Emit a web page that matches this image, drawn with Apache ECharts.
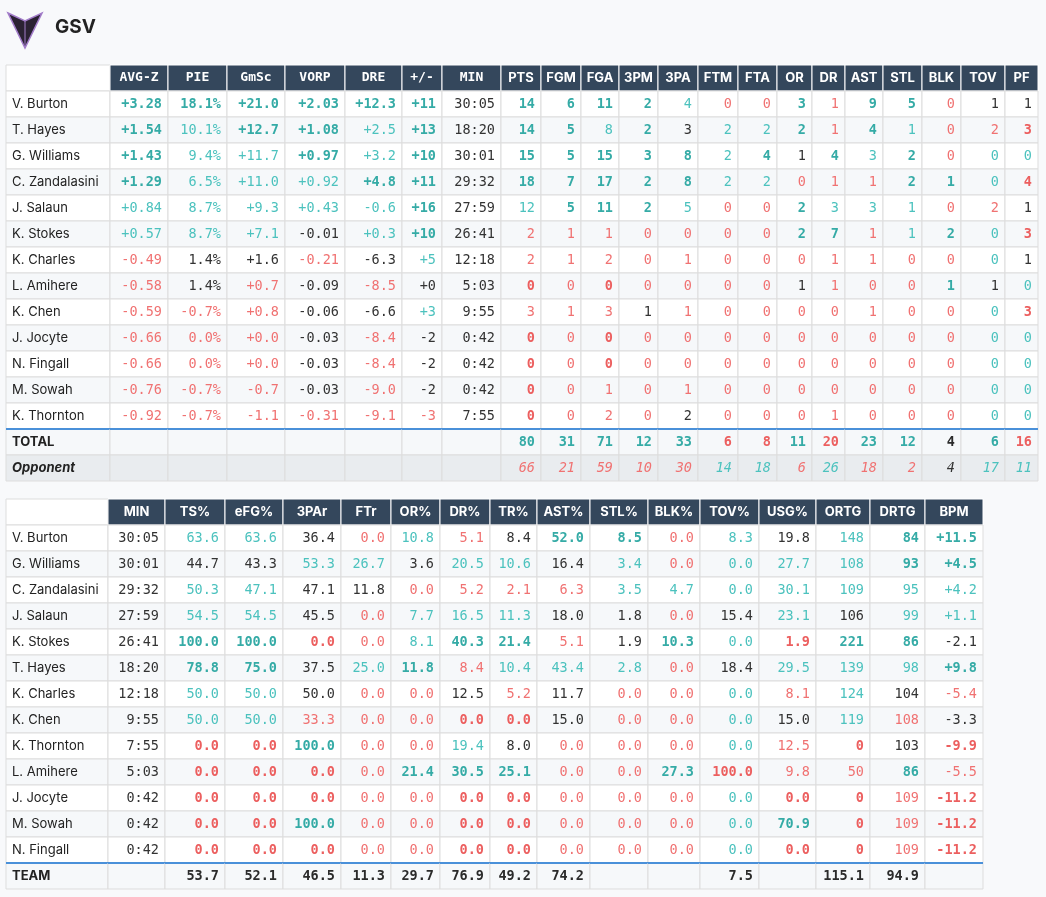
<!DOCTYPE html>
<html>
<head>
<meta charset="utf-8">
<script src="https://cdn.jsdelivr.net/npm/echarts@6/dist/echarts.min.js"></script>
<style>
  html, body { margin: 0; padding: 0; background: #f8f9fb; }
  #main { width: 1046px; height: 897px; }
</style>
</head>
<body>
<div id="main"></div>
<script>
// ---- data: box score ----
var boxCols = ['', 'AVG-Z', 'PIE', 'GmSc', 'VORP', 'DRE', '+/-', 'MIN', 'PTS', 'FGM', 'FGA', '3PM', '3PA', 'FTM', 'FTA', 'OR', 'DR', 'AST', 'STL', 'BLK', 'TOV', 'PF'];
var boxNames = ['V. Burton', 'T. Hayes', 'G. Williams', 'C. Zandalasini', 'J. Salaun', 'K. Stokes', 'K. Charles', 'L. Amihere', 'K. Chen', 'J. Jocyte', 'N. Fingall', 'M. Sowah', 'K. Thornton', 'TOTAL', 'Opponent'];
var boxVals = [
  '+3.28 18.1% +21.0 +2.03 +12.3 +11 30:05 14 6 11 2 4 0 0 3 1 9 5 0 1 1',
  '+1.54 10.1% +12.7 +1.08 +2.5 +13 18:20 14 5 8 2 3 2 2 2 1 4 1 0 2 3',
  '+1.43 9.4% +11.7 +0.97 +3.2 +10 30:01 15 5 15 3 8 2 4 1 4 3 2 0 0 0',
  '+1.29 6.5% +11.0 +0.92 +4.8 +11 29:32 18 7 17 2 8 2 2 0 1 1 2 1 0 4',
  '+0.84 8.7% +9.3 +0.43 -0.6 +16 27:59 12 5 11 2 5 0 0 2 3 3 1 0 2 1',
  '+0.57 8.7% +7.1 -0.01 +0.3 +10 26:41 2 1 1 0 0 0 0 2 7 1 1 2 0 3',
  '-0.49 1.4% +1.6 -0.21 -6.3 +5 12:18 2 1 2 0 1 0 0 0 1 1 0 0 0 1',
  '-0.58 1.4% +0.7 -0.09 -8.5 +0 5:03 0 0 0 0 0 0 0 1 1 0 0 1 1 0',
  '-0.59 -0.7% +0.8 -0.06 -6.6 +3 9:55 3 1 3 1 1 0 0 0 0 1 0 0 0 3',
  '-0.66 0.0% +0.0 -0.03 -8.4 -2 0:42 0 0 0 0 0 0 0 0 0 0 0 0 0 0',
  '-0.66 0.0% +0.0 -0.03 -8.4 -2 0:42 0 0 0 0 0 0 0 0 0 0 0 0 0 0',
  '-0.76 -0.7% -0.7 -0.03 -9.0 -2 0:42 0 0 1 0 1 0 0 0 0 0 0 0 0 0',
  '-0.92 -0.7% -1.1 -0.31 -9.1 -3 7:55 0 0 2 0 2 0 0 0 1 0 0 0 0 0',
  '_ _ _ _ _ _ _ 80 31 71 12 33 6 8 11 20 23 12 4 6 16',
  '_ _ _ _ _ _ _ 66 21 59 10 30 14 18 6 26 18 2 4 17 11'
];
// G strong good, g good, n neutral, r bad, R strong bad, B bold plain
var boxTones = [
  'GGGGGGnGGGGgrrGrGGrnn',
  'GgGGgGnGGgGnggGrGgrrR',
  'GggGgGnGGGGGgGnGgGrgg',
  'GgggGGnGGGGGggrrrGGgR',
  'gggggGngGGGgrrGgggrrn',
  'gggngGnrrrrrrrGGrgGgR',
  'rnnrngnrrrrrrrrrrrrgn',
  'rnrnrnnRrRrrrrnrrrGng',
  'rrrnngnrrrnrrrrrrrrgR',
  'rrrnrnnRrRrrrrrrrrrgg',
  'rrrnrnnRrRrrrrrrrrrgg',
  'rrrnrnnRrrrrrrrrrrrgg',
  'rrrrrrnRrrrnrrrrrrrgg',
  'nnnnnnnGGGGGRRGRGGBGR',
  'nnnnnnnrrrrrggrgrrngg'
];

// ---- data: advanced ----
var advCols = ['', 'MIN', 'TS%', 'eFG%', '3PAr', 'FTr', 'OR%', 'DR%', 'TR%', 'AST%', 'STL%', 'BLK%', 'TOV%', 'USG%', 'ORTG', 'DRTG', 'BPM'];
var advNames = ['V. Burton', 'G. Williams', 'C. Zandalasini', 'J. Salaun', 'K. Stokes', 'T. Hayes', 'K. Charles', 'K. Chen', 'K. Thornton', 'L. Amihere', 'J. Jocyte', 'M. Sowah', 'N. Fingall', 'TEAM'];
var advVals = [
  '30:05 63.6 63.6 36.4 0.0 10.8 5.1 8.4 52.0 8.5 0.0 8.3 19.8 148 84 +11.5',
  '30:01 44.7 43.3 53.3 26.7 3.6 20.5 10.6 16.4 3.4 0.0 0.0 27.7 108 93 +4.5',
  '29:32 50.3 47.1 47.1 11.8 0.0 5.2 2.1 6.3 3.5 4.7 0.0 30.1 109 95 +4.2',
  '27:59 54.5 54.5 45.5 0.0 7.7 16.5 11.3 18.0 1.8 0.0 15.4 23.1 106 99 +1.1',
  '26:41 100.0 100.0 0.0 0.0 8.1 40.3 21.4 5.1 1.9 10.3 0.0 1.9 221 86 -2.1',
  '18:20 78.8 75.0 37.5 25.0 11.8 8.4 10.4 43.4 2.8 0.0 18.4 29.5 139 98 +9.8',
  '12:18 50.0 50.0 50.0 0.0 0.0 12.5 5.2 11.7 0.0 0.0 0.0 8.1 124 104 -5.4',
  '9:55 50.0 50.0 33.3 0.0 0.0 0.0 0.0 15.0 0.0 0.0 0.0 15.0 119 108 -3.3',
  '7:55 0.0 0.0 100.0 0.0 0.0 19.4 8.0 0.0 0.0 0.0 0.0 12.5 0 103 -9.9',
  '5:03 0.0 0.0 0.0 0.0 21.4 30.5 25.1 0.0 0.0 27.3 100.0 9.8 50 86 -5.5',
  '0:42 0.0 0.0 0.0 0.0 0.0 0.0 0.0 0.0 0.0 0.0 0.0 0.0 0 109 -11.2',
  '0:42 0.0 0.0 100.0 0.0 0.0 0.0 0.0 0.0 0.0 0.0 0.0 70.9 0 109 -11.2',
  '0:42 0.0 0.0 0.0 0.0 0.0 0.0 0.0 0.0 0.0 0.0 0.0 0.0 0 109 -11.2',
  '_ 53.7 52.1 46.5 11.3 29.7 76.9 49.2 74.2 _ _ 7.5 _ 115.1 94.9 _'
];
var advTones = [
  'nggnrgrnGGrgngGG',
  'nnnggnggngrgggGG',
  'nggnnrrrrggggggg',
  'nggnrgggnnrngngg',
  'nGGRrgGGrnGgRGGn',
  'nGGngGrgggrngggG',
  'nggnrrnrnrrgrgnr',
  'nggrrrRRnrrgngrn',
  'nRRGrrgnrrrgrRnR',
  'nRRRrGGGrrGRrrGr',
  'nRRRrrRRrrrgRRrR',
  'nRRGrrRRrrrgGRrR',
  'nRRRrrRRrrrgRRrR',
  'BBBBBBBBBBBBBBBB'
];

// ---- layout (column widths in px) ----
var boxWidths = [104, 58, 59, 58, 60, 57, 40, 59, 40, 40, 38, 39, 40, 40, 39, 35, 33, 38, 39, 39, 44, 33];
var advWidths = [102, 57, 60, 58, 58, 50, 49, 50, 47, 53, 58, 52, 59, 57, 54, 55, 58];

var MONO = '"DejaVu Sans Mono", monospace';
var SANS = 'Inter, "Liberation Sans", sans-serif';
var toneStyle = {
  G: { c: '#35aba6', w: 'bold' },
  g: { c: '#4cc2be', w: 'normal' },
  n: { c: '#333333', w: 'normal' },
  r: { c: '#f07272', w: 'normal' },
  R: { c: '#ec5f5f', w: 'bold' },
  B: { c: '#2b2b2b', w: 'bold' }
};

function makeTable(cols, names, vals, tones, widths, monoHeads, totalRow) {
  var cells = vals.map(function (s) { return s.split(' ').map(function (v) { return v === '_' ? '' : v; }); });
  var cum = [0];
  widths.forEach(function (w, i) { cum.push(cum[i] + w); });
  var data = [];
  for (var r = 0; r <= names.length; r++) {
    for (var c = 0; c < cols.length; c++) data.push([c, r]);
  }
  var render = function (params, api) {
    var c = api.value(0), r = api.value(1);
    var cs = params.coordSys;
    var k = cs.width / cum[cum.length - 1];
    var x = cs.x + cum[c] * k, w = widths[c] * k;
    var h = api.size([0, 1])[1];
    var y = api.coord([c, r])[1] - h / 2;
    var kids = [];
    if (r === 0) {
      if (c > 0) {
        kids.push({ type: 'rect', shape: { x: x, y: y, width: w, height: h },
          style: { fill: '#34475c', stroke: '#ffffff', lineWidth: 1 } });
        kids.push({ type: 'text', style: { x: x + w / 2, y: y + h / 2, text: cols[c],
          fill: '#ffffff', font: 'bold 13px ' + (c <= monoHeads ? MONO : SANS),
          align: 'center', verticalAlign: 'middle' } });
      } else {
        kids.push({ type: 'rect', shape: { x: x, y: y, width: w, height: h },
          style: { fill: '#ffffff', stroke: '#dddddd', lineWidth: 1 } });
      }
      return { type: 'group', children: kids };
    }
    var ri = r - 1;
    var isOpp = names[ri] === 'Opponent';
    var isTot = ri === totalRow;
    var bg = isOpp ? '#e9ecef' : (ri % 2 === 1 || isTot ? '#f6f8fa' : '#ffffff');
    kids.push({ type: 'rect', shape: { x: x, y: y, width: w, height: h },
      style: { fill: bg, stroke: '#dddddd', lineWidth: 1 } });
    if (c === 0) {
      kids.push({ type: 'text', style: { x: x + 6, y: y + h / 2, text: names[ri],
        fill: '#222222', font: (isTot || isOpp ? 'bold ' : '') + (isOpp ? 'italic ' : '') + '13px ' + SANS,
        align: 'left', verticalAlign: 'middle' } });
    } else {
      var t = toneStyle[tones[ri][c - 1]];
      kids.push({ type: 'text', style: { x: x + w - 6, y: y + h / 2, text: cells[ri][c - 1],
        fill: t.c, font: (isOpp ? 'italic ' : '') + t.w + ' 13.5px ' + MONO,
        align: 'right', verticalAlign: 'middle' } });
    }
    if (isTot) {
      kids.push({ type: 'line', shape: { x1: x, y1: y, x2: x + w, y2: y },
        style: { stroke: '#4a90d9', lineWidth: 2 } });
    }
    return { type: 'group', children: kids };
  };
  return { data: data, render: render, rows: names.length + 1 };
}

var t1 = makeTable(boxCols, boxNames, boxVals, boxTones, boxWidths, 7, 13);
var t2 = makeTable(advCols, advNames, advVals, advTones, advWidths, -1, 13);

function rowCats(n) { var a = []; for (var i = 0; i < n; i++) a.push(i); return a; }

var myChart = echarts.init(document.getElementById('main'));
var option = {
  animation: false,
  backgroundColor: '#f8f9fb',
  grid: [
    { left: 6, top: 65, width: 1032, height: 416 },
    { left: 6, top: 499, width: 977, height: 390 }
  ],
  xAxis: [
    { type: 'category', gridIndex: 0, data: boxCols, show: false },
    { type: 'category', gridIndex: 1, data: advCols, show: false }
  ],
  yAxis: [
    { type: 'category', gridIndex: 0, data: rowCats(t1.rows), inverse: true, show: false },
    { type: 'category', gridIndex: 1, data: rowCats(t2.rows), inverse: true, show: false }
  ],
  graphic: [
    { type: 'polygon', shape: { points: [[8, 13], [25, 21], [42, 13], [25, 48]] },
      style: { fill: '#2b2233', stroke: '#a27cc9', lineWidth: 1.5 } },
    { type: 'polyline', shape: { points: [[25, 21], [25, 46]] }, style: { stroke: '#a27cc9', lineWidth: 1 } },
    { type: 'text', left: 55, top: 18, style: { text: 'GSV', font: 'bold 19px ' + SANS, fill: '#222222' } }
  ],
  series: [
    { type: 'custom', xAxisIndex: 0, yAxisIndex: 0, data: t1.data, renderItem: t1.render, silent: true },
    { type: 'custom', xAxisIndex: 1, yAxisIndex: 1, data: t2.data, renderItem: t2.render, silent: true }
  ]
};
myChart.setOption(option);
</script>
</body>
</html>
